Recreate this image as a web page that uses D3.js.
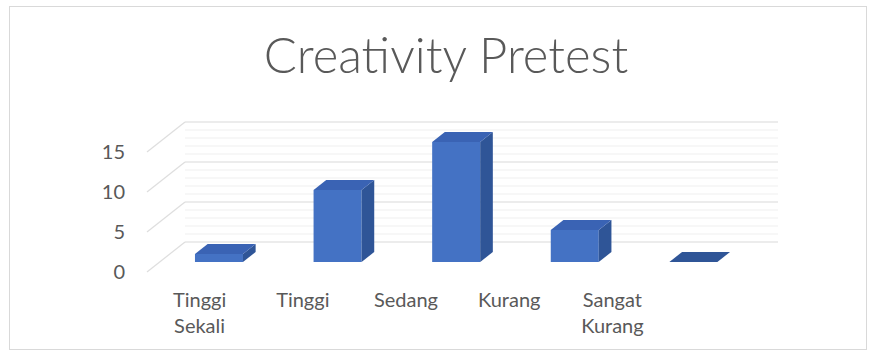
<!DOCTYPE html>
<html>
<head>
<meta charset="utf-8">
<script src="https://cdn.jsdelivr.net/npm/d3@7"></script>
<style>
  html, body { margin: 0; padding: 0; background: #fff; }
  svg { display: block; }
</style>
</head>
<body>
<div id="chart"></div>
<script>
// chart data
const categories = ['Tinggi Sekali', 'Tinggi', 'Sedang', 'Kurang', 'Sangat Kurang']
const categoryLines = [['Tinggi', 'Sekali'], ['Tinggi'], ['Sedang'], ['Kurang'], ['Sangat', 'Kurang']]
const values = [1, 9, 15, 4, 0]
const yTicks = [0, 5, 10, 15]
const title = 'Creativity Pretest'

const width = 872
const height = 358
const textColor = '#595959'
const font = 'Lato, "Open Sans", sans-serif'

// front plane of the 3D box, depth goes up-right
const front = { x0: 147, x1: 740 }
const depth = [38, -30]
const barW = 48

const x = d3.scaleBand().domain(categories).range([front.x0, front.x1])
const y = d3.scaleLinear().domain([0, 15]).range([272, 152])
// category labels sit on their own (narrower) band along the floor edge
const labelX = d3.scaleBand().domain(categories).range([148, 664])

const svg = d3
  .select('#chart')
  .append('svg')
  .attr('width', width)
  .attr('height', height)

// chart border
svg
  .append('rect')
  .attr('x', 9.5)
  .attr('y', 6.5)
  .attr('width', 857)
  .attr('height', 343)
  .style('fill', '#fff')
  .style('stroke', '#d9d9d9')
  .style('stroke-width', 1)

// title
svg
  .append('text')
  .attr('x', 446)
  .attr('y', 73)
  .attr('text-anchor', 'middle')
  .style('font-family', font)
  .style('font-weight', 300)
  .style('font-size', '49px')
  .style('fill', textColor)
  .text(title)

// back wall gridlines (minor every 1, major every 5)
const wallGroup = svg.append('g').attr('class', 'walls')
const minor = d3.range(0, 16)
wallGroup
  .selectAll('.minor')
  .data(minor.filter((v) => v % 5 !== 0))
  .enter()
  .append('line')
  .attr('class', 'minor')
  .attr('x1', front.x0 + depth[0])
  .attr('x2', front.x1 + depth[0])
  .attr('y1', (d) => y(d) + depth[1])
  .attr('y2', (d) => y(d) + depth[1])
  .style('stroke', '#efefef')
  .style('stroke-width', 1)

wallGroup
  .selectAll('.major')
  .data(yTicks)
  .enter()
  .append('line')
  .attr('class', 'major')
  .attr('x1', front.x0 + depth[0])
  .attr('x2', front.x1 + depth[0])
  .attr('y1', (d) => y(d) + depth[1])
  .attr('y2', (d) => y(d) + depth[1])
  .style('stroke', '#d9d9d9')
  .style('stroke-width', 1.2)

// side wall gridlines
wallGroup
  .selectAll('.side')
  .data(yTicks)
  .enter()
  .append('line')
  .attr('class', 'side')
  .attr('x1', front.x0)
  .attr('y1', (d) => y(d))
  .attr('x2', front.x0 + depth[0])
  .attr('y2', (d) => y(d) + depth[1])
  .style('stroke', '#dedede')
  .style('stroke-width', 1.2)

// y axis labels
svg
  .append('g')
  .selectAll('text')
  .data(yTicks)
  .enter()
  .append('text')
  .attr('x', 125)
  .attr('y', (d) => y(d))
  .attr('dy', '0.35em')
  .attr('text-anchor', 'end')
  .style('font-family', font)
  .style('font-size', '20px')
  .style('fill', textColor)
  .text((d) => d)

// bars, placed in the middle third of the depth
const dx = depth[0] / 3
const dy = depth[1] / 3
const barGroup = svg.append('g').attr('class', 'bars')

const bars = barGroup
  .selectAll('.bar')
  .data(categories.map((c, i) => ({ c, v: values[i] })))
  .enter()
  .append('g')
  .attr('class', 'bar')

const geom = (d) => {
  const bx = x(d.c) + (x.bandwidth() - barW) / 2 + dx
  const yt = y(d.v) + dy
  const yb = y(0) + dy
  return { bx, yt, yb }
}

bars
  .filter((d) => d.v > 0)
  .append('rect')
  .attr('x', (d) => geom(d).bx)
  .attr('y', (d) => geom(d).yt)
  .attr('width', barW)
  .attr('height', (d) => geom(d).yb - geom(d).yt)
  .style('fill', '#4472c4')

bars
  .filter((d) => d.v > 0)
  .append('path')
  .attr('d', (d) => {
    const g = geom(d)
    const r = g.bx + barW
    return `M${r},${g.yt}L${r},${g.yb}L${r + dx},${g.yb + dy}L${r + dx},${g.yt + dy}Z`
  })
  .style('fill', '#2f5597')

bars
  .append('path')
  .attr('d', (d) => {
    const g = geom(d)
    return `M${g.bx},${g.yt}L${g.bx + barW},${g.yt}L${g.bx + barW + dx},${g.yt + dy}L${g.bx + dx},${g.yt + dy}Z`
  })
  .style('fill', (d) => (d.v > 0 ? '#3a63b4' : '#2f5597'))

// category labels
const catGroup = svg.append('g').attr('class', 'categories')
catGroup
  .selectAll('text')
  .data(categories)
  .enter()
  .append('text')
  .attr('x', (d) => labelX(d) + labelX.bandwidth() / 2)
  .attr('y', 307)
  .attr('text-anchor', 'middle')
  .style('font-family', font)
  .style('font-size', '20px')
  .style('fill', textColor)
  .each(function (d, i) {
    const t = d3.select(this)
    categoryLines[i].forEach((line, k) => {
      t.append('tspan')
        .attr('x', labelX(d) + labelX.bandwidth() / 2)
        .attr('dy', k === 0 ? 0 : 26)
        .text(line)
    })
  })
</script>
</body>
</html>
